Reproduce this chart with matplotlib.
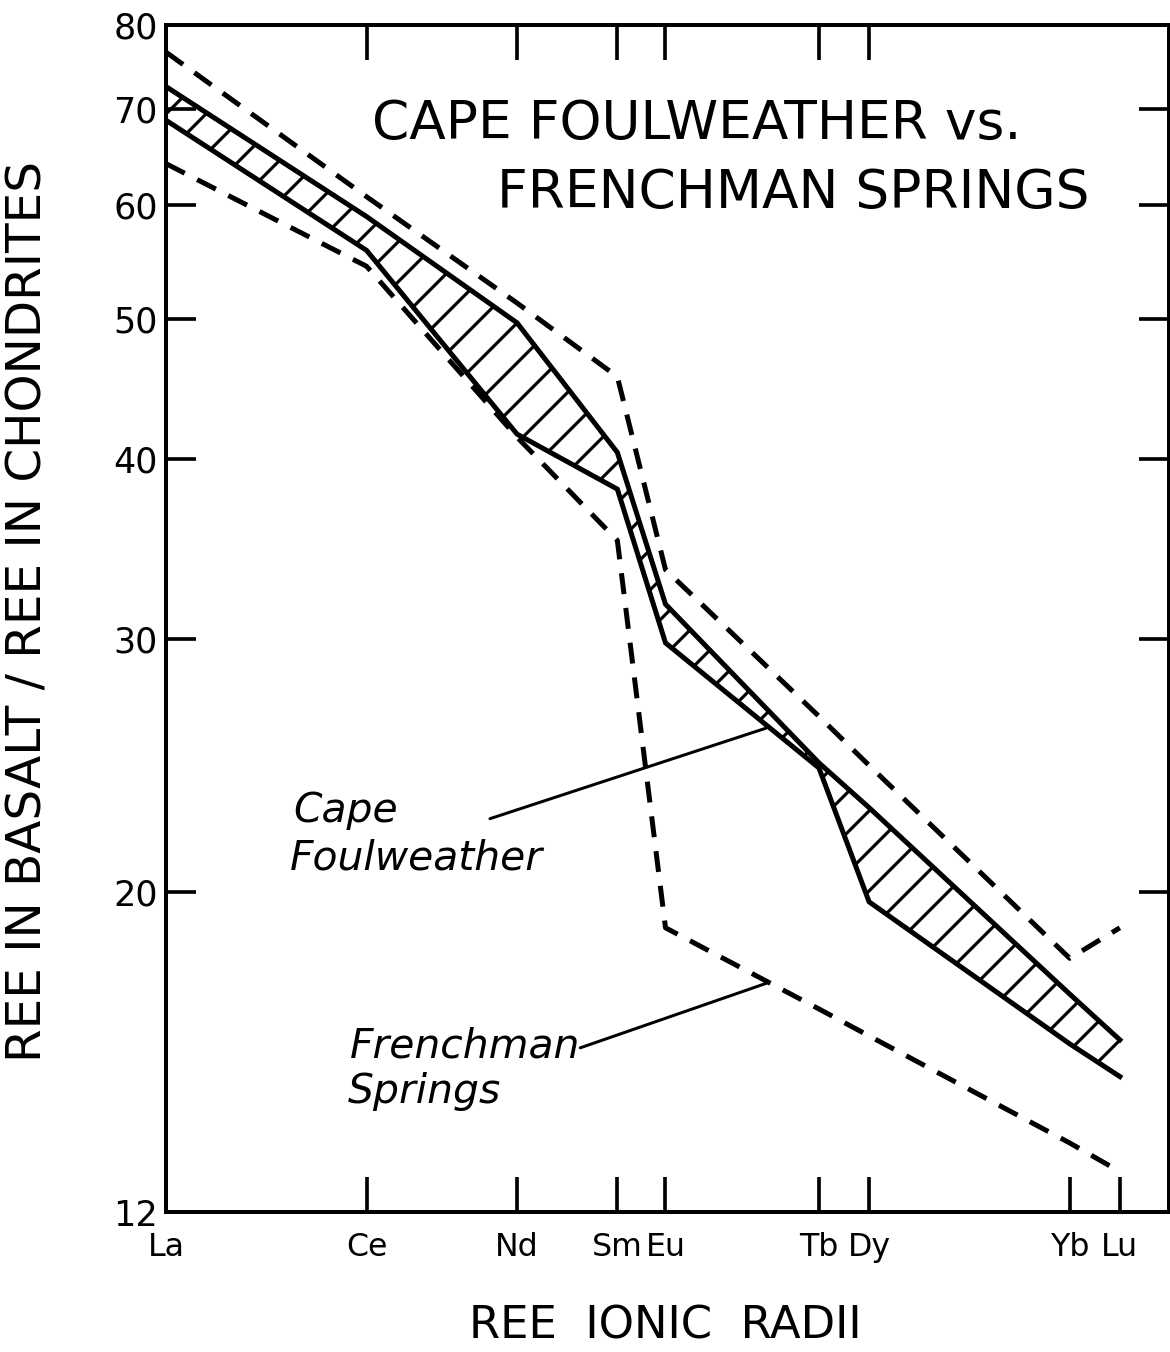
import matplotlib
matplotlib.use("Agg")
import matplotlib.pyplot as plt
from matplotlib.ticker import NullLocator, FixedLocator

# ---- data -------------------------------------------------------------
ree = ['La', 'Ce', 'Nd', 'Sm', 'Eu', 'Tb', 'Dy', 'Yb', 'Lu']
# relative position of each element on the ionic-radius axis (0-100 scale)
ionic_radius_axis = [0.0, 20.0, 35.0, 45.0, 49.8, 65.1, 70.1, 90.1, 95.1]

cf_upper = [72.5, 58.9, 49.7, 40.4, 31.7, 24.6, 22.9, 17.0, 15.8]
cf_lower = [68.7, 55.8, 41.6, 38.1, 29.8, 24.4, 19.7, 15.7, 14.9]
fs_upper = [76.6, 60.8, 51.3, 45.6, 33.5, 26.5, 24.5, 18.0, 18.9]
fs_lower = [64.1, 54.4, 41.4, 35.1, 18.9, 16.6, 15.9, 13.4, 12.8]

y_ticks = [12, 20, 30, 40, 50, 60, 70, 80]
y_ticklabels = ['12', '20', '30', '40', '50', '60', '70', '80']
top_tick_elements = ['Ce', 'Nd', 'Sm', 'Eu', 'Tb', 'Dy']

# ---- figure -----------------------------------------------------------
DPI = 120
W, H = 1170, 1352
plt.rcParams['font.family'] = ['DejaVu Sans']
plt.rcParams['hatch.linewidth'] = 1.9

fig = plt.figure(figsize=(W / DPI, H / DPI), dpi=DPI)
left, right, top, bottom = 166, 1169, 25, 1212
ax = fig.add_axes([left / W, 1 - bottom / H, (right - left) / W, (bottom - top) / H])

ax.set_yscale('log')
ax.set_ylim(12, 80)
ax.set_xlim(0, 100)

lw = 3.0
dash = (0, (4.2, 2.8))

ax.fill_between(ionic_radius_axis, cf_lower, cf_upper, facecolor='none',
                edgecolor='black', hatch='/', linewidth=0)
ax.plot(ionic_radius_axis, cf_upper, color='black', lw=lw, solid_joinstyle='miter')
ax.plot(ionic_radius_axis, cf_lower, color='black', lw=lw, solid_joinstyle='miter')
ax.plot(ionic_radius_axis, fs_upper, color='black', lw=lw, linestyle=dash)
ax.plot(ionic_radius_axis, fs_lower, color='black', lw=lw, linestyle=dash)

# axes styling
for s in ax.spines.values():
    s.set_linewidth(2.4)

ax.yaxis.set_major_locator(FixedLocator(y_ticks))
ax.yaxis.set_minor_locator(NullLocator())
ax.set_yticklabels(y_ticklabels)
ax.set_xticks(ionic_radius_axis)
ax.set_xticklabels(ree)
ax.tick_params(axis='y', direction='in', length=18, width=2.2, labelsize=21,
               pad=5, right=True, labelright=False)
ax.tick_params(axis='x', direction='in', length=21, width=2.2, labelsize=19,
               pad=12, top=False)

sec = ax.secondary_xaxis('top')
sec.set_xticks([ionic_radius_axis[ree.index(e)] for e in top_tick_elements])
sec.tick_params(direction='in', length=21, width=2.2, labeltop=False)
sec.spines['top'].set_linewidth(2.4)

# title
fig.text(372 / W, 1 - 139 / H, 'CAPE FOULWEATHER vs.', fontsize=32,
         ha='left', va='baseline')
fig.text(497 / W, 1 - 208 / H, 'FRENCHMAN SPRINGS', fontsize=32,
         ha='left', va='baseline')

# axis labels
fig.text(28 / W, 1 - 611 / H, 'REE IN BASALT / REE IN CHONDRITES', fontsize=29,
         rotation=90, ha='center', va='center')
fig.text(665 / W, 1 - 1326 / H, 'REE  IONIC  RADII', fontsize=27,
         ha='center', va='center')

# in-plot labels with leader lines
fig.text(293 / W, 1 - 822 / H, 'Cape', fontsize=24.5, style='italic',
         ha='left', va='baseline')
fig.text(290 / W, 1 - 870 / H, 'Foulweather', fontsize=24.5, style='italic',
         ha='left', va='baseline')
fig.text(350 / W, 1 - 1058 / H, 'Frenchman', fontsize=24.5, style='italic',
         ha='left', va='baseline')
fig.text(348 / W, 1 - 1103 / H, 'Springs', fontsize=24.5, style='italic',
         ha='left', va='baseline')

ax.annotate('', xy=(59.8, 26.0), xytext=(32.3, 22.5),
            arrowprops=dict(arrowstyle='-', lw=1.8, color='black',
                            shrinkA=0, shrinkB=0))
ax.annotate('', xy=(59.9, 17.3), xytext=(41.3, 15.6),
            arrowprops=dict(arrowstyle='-', lw=1.8, color='black',
                            shrinkA=0, shrinkB=0))

fig.savefig('out.png', dpi=DPI, facecolor='white')
